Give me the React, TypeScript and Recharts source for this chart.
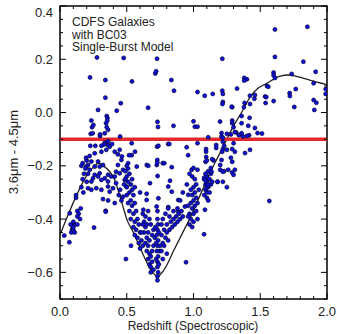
import React from "react";
import {
  ComposedChart,
  Scatter,
  Line,
  XAxis,
  YAxis,
  ReferenceLine,
  ReferenceArea,
} from "recharts";

// galaxy redshifts and 3.6um - 4.5um colours
const galaxyZ = [
  0.277, 0.477, 0.727, 0.225, 0.34, 0.539, 0.714, 0.72, 0.834, 0.854, 0.34, 0.455, 0.285, 0.425, 0.66, 0.35, 0.355, 0.235, 0.73, 1.0,
  1.03, 1.61, 1.853, 1.216, 1.61, 1.823, 1.915, 1.6, 1.6, 1.61, 1.735, 1.38, 1.4, 1.38, 1.084, 1.144, 1.216, 1.22, 1.22, 1.217,
  1.29, 1.326, 1.423, 1.456, 1.383, 1.378, 1.55, 1.56, 1.536, 1.545, 1.54, 1.6, 1.72, 1.722, 1.766, 1.755, 1.9, 1.9, 1.92, 1.905,
  1.99, 1.99, 1.01, 0.85, 1.42, 1.46, 1.513, 1.11, 1.21, 1.21, 1.29, 1.29, 1.3, 1.32, 1.34, 1.36, 1.37, 1.416, 1.36, 1.36,
  1.41, 0.24, 0.25, 0.23, 0.245, 0.3, 0.3, 0.335, 0.345, 0.35, 0.36, 0.354, 0.45, 0.734, 1.03, 1.199, 1.22, 1.25, 1.28, 1.31,
  1.4, 1.48, 1.46, 1.423, 1.286,
  0.227, 0.265, 0.335, 0.36, 0.372, 0.39, 0.347, 0.31, 0.26, 0.222, 0.41, 0.434, 0.447, 0.46, 0.464, 0.434, 0.42, 0.447, 0.472, 0.285,
  0.235, 0.21, 0.197, 0.222, 0.26, 0.297, 0.322, 0.297, 0.26, 0.247, 0.285, 0.31, 0.335, 0.36, 0.384, 0.41, 0.36, 0.235, 0.21, 0.235,
  0.272, 0.31, 0.36, 0.372, 0.397, 0.322, 0.36, 0.342, 0.41, 0.42, 0.485, 0.497, 0.472,
  0.33, 0.31, 0.36, 0.537, 0.537, 0.51, 0.727, 0.77, 0.81, 0.725, 0.65, 0.575,
  0.737, 0.819, 0.949, 0.517, 0.562, 0.729, 0.729, 0.781, 0.661, 0.837, 0.986, 0.731, 0.824, 0.674, 0.811, 0.837, 0.649, 0.6, 0.737, 0.886,
  0.961, 0.649, 0.724, 0.811, 0.624, 0.886, 0.936,
  0.49, 0.5, 0.51, 0.5, 0.52, 0.53, 0.52, 0.54, 0.5, 0.53, 0.55, 0.51, 0.54, 0.56, 0.52, 0.55, 0.57, 0.53, 0.56, 0.58,
  0.55, 0.57, 0.59, 0.56, 0.58, 0.6, 0.59, 0.61, 0.6, 0.62, 0.5, 0.51, 0.49, 0.54, 0.56,
  0.62, 0.63, 0.64, 0.64, 0.63, 0.65, 0.66, 0.65, 0.64, 0.66, 0.67, 0.65, 0.67, 0.66, 0.68, 0.67, 0.68, 0.69, 0.68, 0.7,
  0.69, 0.7, 0.69, 0.68, 0.7, 0.71, 0.67, 0.66, 0.62, 0.61,
  0.73, 0.73, 0.735, 0.73, 0.725, 0.735, 0.73, 0.725, 0.735, 0.73, 0.73, 0.735, 0.73, 0.73, 0.72, 0.74, 0.72, 0.74, 0.745, 0.715,
  0.76, 0.77, 0.76, 0.78, 0.79, 0.78, 0.8, 0.81, 0.8, 0.82, 0.83, 0.82, 0.84, 0.85, 0.86, 0.85, 0.87, 0.88, 0.89, 0.9,
  0.88, 0.91, 0.92, 0.77, 0.79, 0.76, 0.81, 0.8, 0.77, 0.75, 0.944, 0.532, 0.494,
  0.97, 0.98, 0.97, 0.99, 0.98, 1.0, 1.0, 1.01, 0.99, 1.02, 1.01, 0.98, 1.0, 0.99, 1.02, 1.03, 1.03, 1.0, 1.02, 1.01,
  0.96, 0.96, 1.04, 1.08, 1.09, 1.1, 1.09, 1.1, 1.11, 1.1, 1.11, 1.12, 1.13, 1.12, 1.1, 1.13, 1.14, 1.08, 1.09, 1.11,
  1.079, 1.086, 1.2, 1.23, 1.26, 1.29, 1.31, 1.18, 1.22,
  1.03, 1.094, 1.094, 1.17, 1.17, 1.22, 1.23, 1.22, 1.215, 1.25, 1.3, 1.29, 1.31, 1.386, 1.423, 1.28, 1.29, 1.21, 1.2, 1.15,
  1.14, 1.095, 1.09, 1.1, 1.13, 1.135, 1.22, 1.3, 1.0, 1.03, 0.99, 1.08, 1.09, 1.1, 1.11, 1.18, 1.25, 1.568,
  0.96, 0.97, 0.95, 0.92, 0.9,
  0.032, 0.07, 0.095, 0.11, 0.1, 0.13, 0.14, 0.15, 0.13, 0.12, 0.12, 0.155, 0.073, 0.08, 0.09, 0.085, 0.1, 0.11, 0.1, 0.13,
  0.255, 0.342, 0.17, 0.18, 0.19, 0.16, 0.175, 0.2, 0.195, 0.16, 0.17, 0.21, 0.2,
  0.44, 0.46, 0.48, 0.45,
];

const galaxyColour = [
  0.207, 0.205, 0.202, 0.132, 0.122, 0.117, 0.147, 0.155, 0.122, 0.082, 0.056, 0.035, 0.01, 0.007, 0.018, -0.013, -0.02, -0.03, -0.035, -0.033,
  0.077, 0.312, 0.322, 0.202, 0.209, 0.191, 0.153, 0.15, 0.14, 0.13, 0.145, 0.13, 0.125, 0.12, 0.063, 0.07, 0.082, 0.07, 0.04, 0.032,
  0.02, 0.09, 0.063, 0.052, 0.036, 0.02, 0.1, 0.097, 0.06, 0.058, 0.036, 0.043, 0.073, 0.062, 0.088, 0.021, 0.11, 0.047, 0.037, 0.01,
  0.088, 0.07, -0.053, -0.05, -0.02, -0.058, -0.079, -0.093, -0.077, -0.09, -0.03, -0.04, -0.055, -0.075, -0.085, -0.078, -0.09, -0.085, -0.013, -0.04,
  -0.05, -0.055, -0.047, -0.08, -0.078, -0.088, -0.082, -0.078, -0.04, -0.055, -0.065, -0.03, -0.09, -0.054, -0.053, -0.034, -0.095, -0.08, -0.082, -0.073,
  -0.088, -0.077, 0.066, 0.032, 0.022,
  -0.125, -0.125, -0.113, -0.122, -0.128, -0.118, -0.14, -0.147, -0.153, -0.163, -0.147, -0.157, -0.14, -0.178, -0.165, -0.197, -0.222, -0.228, -0.215, -0.184,
  -0.184, -0.197, -0.203, -0.215, -0.203, -0.203, -0.197, -0.228, -0.234, -0.247, -0.24, -0.253, -0.247, -0.234, -0.24, -0.24, -0.259, -0.259, -0.284, -0.29,
  -0.284, -0.29, -0.278, -0.297, -0.284, -0.325, -0.33, -0.369, -0.34, -0.265, -0.253, -0.278, -0.316,
  -0.12, -0.125, -0.108, -0.115, -0.16, -0.19, -0.128, -0.19, -0.118, -0.197, -0.197, -0.203,
  -0.125, -0.118, -0.13, -0.16, -0.147, -0.178, -0.188, -0.19, -0.2, -0.205, -0.215, -0.238, -0.256, -0.265, -0.278, -0.297, -0.305, -0.3, -0.322, -0.328,
  -0.309, -0.328, -0.353, -0.355, -0.365, -0.372, -0.353,
  -0.22, -0.24, -0.26, -0.28, -0.23, -0.27, -0.3, -0.29, -0.31, -0.33, -0.31, -0.34, -0.35, -0.34, -0.37, -0.38, -0.37, -0.4, -0.41, -0.4,
  -0.43, -0.44, -0.42, -0.46, -0.47, -0.45, -0.49, -0.48, -0.51, -0.5, -0.2, -0.21, -0.25, -0.25, -0.28,
  -0.38, -0.41, -0.39, -0.43, -0.45, -0.42, -0.45, -0.47, -0.49, -0.5, -0.48, -0.52, -0.53, -0.55, -0.54, -0.57, -0.58, -0.56, -0.6, -0.59,
  -0.52, -0.5, -0.46, -0.42, -0.44, -0.47, -0.4, -0.37, -0.42, -0.45,
  -0.37, -0.4, -0.42, -0.44, -0.46, -0.48, -0.5, -0.52, -0.54, -0.56, -0.58, -0.6, -0.615, -0.63, -0.55, -0.57, -0.49, -0.45, -0.52, -0.43,
  -0.52, -0.49, -0.46, -0.5, -0.47, -0.44, -0.45, -0.48, -0.42, -0.44, -0.41, -0.39, -0.43, -0.4, -0.42, -0.37, -0.39, -0.41, -0.38, -0.4,
  -0.36, -0.37, -0.39, -0.4, -0.38, -0.42, -0.36, -0.53, -0.55, -0.5, -0.562, -0.5, -0.55,
  -0.42, -0.4, -0.38, -0.36, -0.34, -0.38, -0.33, -0.35, -0.31, -0.32, -0.3, -0.29, -0.41, -0.43, -0.37, -0.34, -0.4, -0.28, -0.27, -0.25,
  -0.35, -0.39, -0.29, -0.25, -0.27, -0.26, -0.29, -0.3, -0.28, -0.24, -0.22, -0.25, -0.27, -0.3, -0.32, -0.23, -0.26, -0.31, -0.23, -0.33,
  -0.457, -0.365, -0.215, -0.22, -0.215, -0.225, -0.215, -0.26, -0.26,
  -0.115, -0.137, -0.147, -0.122, -0.133, -0.11, -0.125, -0.137, -0.147, -0.14, -0.115, -0.137, -0.147, -0.152, -0.14, -0.17, -0.185, -0.178, -0.197, -0.18,
  -0.175, -0.167, -0.185, -0.18, -0.208, -0.222, -0.222, -0.234, -0.208, -0.215, -0.24, -0.245, -0.255, -0.28, -0.27, -0.26, -0.28, -0.332,
  -0.16, -0.23, -0.27, -0.3, -0.33,
  -0.462, -0.487, -0.428, -0.42, -0.41, -0.37, -0.38, -0.4, -0.39, -0.32, -0.31, -0.36, -0.378, -0.42, -0.44, -0.45, -0.44, -0.45, -0.43, -0.42,
  -0.432, -0.372, -0.25, -0.23, -0.21, -0.28, -0.3, -0.18, -0.17, -0.2, -0.19, -0.23, -0.26,
  -0.31, -0.33, -0.27, -0.29,
];

// BC03 single-burst model track
const modelZ = [
  0.0, 0.05, 0.125, 0.187, 0.25, 0.29, 0.325, 0.41, 0.472, 0.5, 0.55, 0.62, 0.68, 0.73, 0.78, 0.85, 0.92, 0.98, 1.05, 1.12,
  1.19, 1.25, 1.3, 1.36, 1.42, 1.48, 1.55, 1.65, 1.71, 1.77, 1.87, 2.0,
];
const modelColour = [
  -0.46, -0.397, -0.31, -0.247, -0.205, -0.19, -0.2, -0.253, -0.353, -0.4, -0.45, -0.53, -0.59, -0.615, -0.59, -0.52, -0.45, -0.39, -0.31, -0.23,
  -0.16, -0.1, -0.05, 0.0, 0.055, 0.09, 0.11, 0.137, 0.141, 0.136, 0.122, 0.105,
];

const xTicks = [
  0, 0.1, 0.2, 0.3, 0.4, 0.5, 0.6, 0.7, 0.8, 0.9, 1.0, 1.1, 1.2, 1.3, 1.4, 1.5, 1.6, 1.7, 1.8, 1.9, 2.0,
];
const yTicks = [
  -0.7, -0.65, -0.6, -0.55, -0.5, -0.45, -0.4, -0.35, -0.3, -0.25, -0.2, -0.15, -0.1, -0.05, 0, 0.05, 0.1, 0.15, 0.2, 0.25,
  0.3, 0.35, 0.4,
];
const cutLevel = -0.1;
const legendLines = ["CDFS Galaxies", "with BC03", "Single-Burst Model"];

const galaxies = galaxyZ.map((z, i) => ({ z, c: galaxyColour[i] }));
const model = modelZ.map((z, i) => ({ z, c: modelColour[i] }));

const W = 337;
const H = 334;
const PLOT_LEFT = 60;
const PLOT_RIGHT = 327;
const PLOT_TOP = 6;
const PLOT_BOTTOM = 299;
const FONT = "'Liberation Sans', Arial, Helvetica, sans-serif";

const isMultiple = (v: number, step: number) =>
  Math.abs(v / step - Math.round(v / step)) < 1e-6;

const fmt = (v: number) => {
  const s = Math.abs(v).toFixed(1);
  return v < -1e-9 ? "\u2212" + s : s;
};

const XTick = (props: any) => {
  const { x, payload } = props;
  const v = payload.value;
  const major = isMultiple(v, 0.5);
  const len = major ? 6 : 3;
  return (
    <g>
      <line x1={x} x2={x} y1={PLOT_BOTTOM} y2={PLOT_BOTTOM - len} stroke="#000" strokeWidth={1} />
      <line x1={x} x2={x} y1={PLOT_TOP} y2={PLOT_TOP + len} stroke="#000" strokeWidth={1} />
      {major && (
        <text x={x} y={PLOT_BOTTOM + 17} textAnchor="middle" fontFamily={FONT} fontSize={13} fill="#222">
          {fmt(v)}
        </text>
      )}
    </g>
  );
};

const YTick = (props: any) => {
  const { y, payload } = props;
  const v = payload.value;
  const major = isMultiple(v, 0.2);
  const len = major ? 6 : 3;
  const ly = Math.max(y, 12.5);
  return (
    <g>
      <line x1={PLOT_LEFT} x2={PLOT_LEFT + len} y1={y} y2={y} stroke="#000" strokeWidth={1} />
      <line x1={PLOT_RIGHT} x2={PLOT_RIGHT - len} y1={y} y2={y} stroke="#000" strokeWidth={1} />
      {major && (
        <text x={PLOT_LEFT - 7} y={ly} dy={4.5} textAnchor="end" fontFamily={FONT} fontSize={13} fill="#222">
          {fmt(v)}
        </text>
      )}
    </g>
  );
};

const Dot = (props: any) => (
  <circle cx={props.cx} cy={props.cy} r={2} fill="#1010e0" stroke="#000030" strokeWidth={0.7} />
);

export default function App() {
  return (
    <div style={{ position: "absolute", left: 0, top: 0, width: W, height: H, background: "#fff" }}>
      <ComposedChart width={W} height={H} margin={{ top: 6, right: 10, bottom: 5, left: 10 }}>
        <XAxis
          xAxisId={0}
          type="number"
          dataKey="z"
          domain={[0, 2]}
          allowDataOverflow
          ticks={xTicks}
          interval={0}
          height={30}
          tickSize={0}
          tickMargin={0}
          axisLine={false}
          tickLine={false}
          tick={<XTick />}
        />
        <YAxis
          yAxisId={0}
          type="number"
          dataKey="c"
          domain={[-0.7, 0.4]}
          allowDataOverflow
          ticks={yTicks}
          interval={0}
          width={50}
          tickSize={0}
          tickMargin={0}
          axisLine={false}
          tickLine={false}
          tick={<YTick />}
        />
        <Scatter data={galaxies} dataKey="c" shape={<Dot />} isAnimationActive={false} />
        <Line
          data={model}
          dataKey="c"
          type="monotone"
          stroke="#222"
          strokeWidth={1.3}
          dot={false}
          activeDot={false}
          isAnimationActive={false}
        />
        <ReferenceLine y={cutLevel} stroke="#e3292b" strokeWidth={3.5} />
        <ReferenceArea x1={0} x2={2} y1={-0.7} y2={0.4} fill="none" stroke="#000" strokeWidth={1.5} />
      </ComposedChart>

      <svg
        width={W}
        height={H}
        style={{ position: "absolute", left: 0, top: 0, pointerEvents: "none" }}
      >
        {legendLines.map((t, i) => (
          <text key={t} x={72} y={26 + i * 12.5} fontFamily={FONT} fontSize={12} fill="#222">
            {t}
          </text>
        ))}
        <text
          x={13}
          y={152}
          transform="rotate(-90, 13, 152)"
          textAnchor="middle"
          dy={4.5}
          fontFamily={FONT}
          fontSize={13}
          fill="#222"
        >
          3.6μm - 4.5μm
        </text>
        <text x={193} y={330} textAnchor="middle" fontFamily={FONT} fontSize={12} fill="#222">
          Redshift (Spectroscopic)
        </text>
      </svg>
    </div>
  );
}
